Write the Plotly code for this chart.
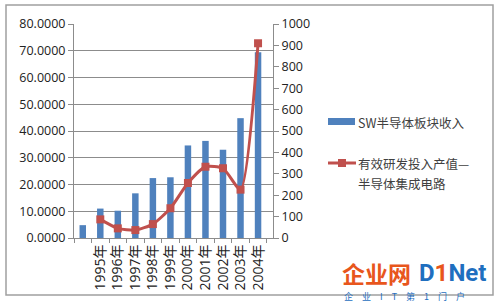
import plotly.graph_objects as go

categories = [" ", "1995年", "1996年", "1997年", "1998年", "1999年", "2000年", "2001年", "2002年", "2003年", "2004年"]
bar_name = "SW半导体板块收入"
bar_values = [4.8, 11.0, 10.2, 16.7, 22.4, 22.7, 34.6, 36.3, 33.0, 44.8, 69.4]
line_name_1 = "有效研发投入产值—"
line_name_2 = "半导体集成电路"
line_categories = categories[1:]
line_values = [87, 45, 37, 65, 139, 257, 333, 326, 226, 910]

BLUE = "#4f81bd"
RED = "#c0504d"
GRID = "#8c8c8c"
TXT = "#404040"

L, R, T, B = 74, 227, 24, 65
W, H = 500, 303
pw, ph = W - L - R, H - T - B

def px(x):
    return (x - L) / pw

def py(y):
    return (H - B - y) / ph

fig = go.Figure()
fig.add_trace(go.Bar(x=categories, y=bar_values, name=bar_name, marker_color=BLUE,
                     marker_line_width=0, yaxis="y", showlegend=False))
fig.add_trace(go.Scatter(x=line_categories, y=line_values, name=line_name_1 + line_name_2, yaxis="y2",
                         mode="lines+markers", line=dict(color=RED, width=3, shape="spline", smoothing=0.6),
                         marker=dict(symbol="square", size=8, color=RED), showlegend=False))

fig.update_layout(
    width=W, height=H, margin=dict(l=L, r=R, t=T, b=B),
    paper_bgcolor="white", plot_bgcolor="white", bargap=0.63,
    font=dict(family="Open Sans, Noto Sans CJK SC", size=12, color=TXT),
    xaxis=dict(type="category", categoryorder="array", categoryarray=categories,
               tickson="boundaries", ticks="outside", ticklen=4, tickcolor=GRID,
               showline=True, linecolor=GRID, showgrid=False, tickangle=-90,
               tickfont=dict(family="Open Sans, Noto Sans CJK SC", size=14, color="#222")),
    yaxis=dict(range=[0, 80], dtick=10, tickformat=".4f", showgrid=True, gridcolor=GRID,
               showline=True, linecolor=GRID, ticks="outside", ticklen=5, tickcolor=GRID,
               zeroline=False, tickfont=dict(size=12.5, color="#222")),
    yaxis2=dict(range=[0, 1000], dtick=100, overlaying="y", side="right", showgrid=False,
                showline=True, linecolor=GRID, ticks="outside", ticklen=5, tickcolor=GRID,
                zeroline=False, tickfont=dict(size=12.5, color="#222")),
)

shapes = [
    dict(type="rect", xref="paper", yref="paper", x0=px(6), x1=px(493), y0=py(5), y1=py(295),
         line=dict(color="#a0a0a0", width=1.5), fillcolor="rgba(0,0,0,0)", layer="below"),
    dict(type="rect", xref="paper", yref="paper", x0=px(328), x1=px(355), y0=py(125), y1=py(118),
         line=dict(width=0), fillcolor=BLUE),
    dict(type="line", xref="paper", yref="paper", x0=px(328), x1=px(356), y0=py(163), y1=py(163),
         line=dict(color=RED, width=3)),
    dict(type="rect", xref="paper", yref="paper", x0=px(338), x1=px(346), y0=py(167), y1=py(159),
         line=dict(width=0), fillcolor=RED),
]
fig.update_layout(shapes=shapes)

anns = [
    dict(x=px(356), y=py(122), text=bar_name, xanchor="left", yanchor="middle"),
    dict(x=px(356), y=py(163), text=line_name_1, xanchor="left", yanchor="middle"),
    dict(x=px(356), y=py(183), text=line_name_2, xanchor="left", yanchor="middle"),
    dict(x=px(340), y=py(273), text="<b>企业网</b>", xanchor="left", yanchor="middle",
         font=dict(size=23, color="#e8561c", family="Noto Sans CJK SC")),
    dict(x=px(417), y=py(273), text="<b>D<span style='color:#e8561c'>1</span>Net</b>", xanchor="left", yanchor="middle",
         font=dict(size=24, color="#1f6fbf", family="Roboto")),
    dict(x=px(342), y=py(296), text="企\u2003业\u2003I\u2003T\u2003第\u20031\u2003门\u2003户", xanchor="left", yanchor="middle",
         font=dict(size=9, color="#1f6fbf", family="Noto Sans CJK SC")),
]
for a in anns:
    a.update(xref="paper", yref="paper", showarrow=False)
    a.setdefault("font", dict(size=12.5, color=TXT, family="Noto Sans CJK SC"))
fig.update_layout(annotations=anns)

fig.write_html("out.html")
